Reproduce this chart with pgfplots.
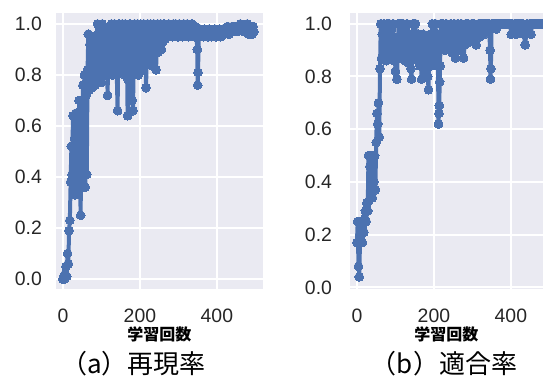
\documentclass[border=0pt]{standalone}
\usepackage{pgfplots}
\pgfplotsset{compat=1.18}
\usepackage{fontspec}
\setmainfont{Liberation Sans}
\newfontfamily\cjk{Noto Sans CJK JP}
\definecolor{sbblue}{HTML}{4C72B0}
\definecolor{sbbg}{HTML}{EAEAF2}
\definecolor{sbtext}{HTML}{262626}
\pgfplotsset{
  sbstyle/.style={
    scale only axis, anchor=south west,
    height=138.15pt,
    xmin=-18,
    axis background/.style={fill=sbbg},
    axis line style={draw=none},
    major tick length=0pt,
    grid=major, major grid style={white, line width=1pt},
    xtick={0,200,400}, xticklabels={0,200,400},
    ytick={0,0.2,0.4,0.6,0.8,1.0}, yticklabels={0.0,0.2,0.4,0.6,0.8,1.0},
    tick label style={font=\fontsize{9.7}{11}\selectfont, text=sbtext},
    xticklabel style={yshift=-6.3pt},
    xlabel={学習回数},
    xlabel style={font=\fontsize{8}{10}\selectfont\cjk\bfseries, text=black,
      at={(axis description cs:0.5,0)}, anchor=center, yshift=-22.5pt},
  },
  sbline/.style={color=sbblue, line width=2pt, line join=round, line cap=round,
    mark=*, mark size=2.2pt,
    mark options={solid, fill=sbblue, draw=sbblue, line width=0pt}},
}
\begin{document}
\begin{tikzpicture}
\path[use as bounding box] (0pt,0pt) rectangle (271.5pt,189pt);
\begin{axis}[sbstyle, at={(28pt,44.5pt)}, width=103.35pt, xmax=519,
  ymin=-0.039, ymax=1.044, yticklabel style={xshift=-3.5pt}]
\addplot[sbline] coordinates {
(0,0.00)(2,0.01)(4,0.00)(6,0.02)(8,0.05)(10,0.01)(12,0.10)(14,0.06)(16,0.19)(18,0.23)(20,0.38)(22,0.52)(24,0.41)(26,0.64)(28,0.36)(30,0.55)(32,0.33)(34,0.65)(36,0.40)(38,0.60)(40,0.34)(42,0.70)(44,0.45)(46,0.25)(48,0.62)(50,0.38)(52,0.76)(54,0.48)(56,0.80)(58,0.36)(60,0.72)(62,0.41)(64,0.82)(66,0.96)(68,0.74)(70,0.92)(72,0.78)(74,0.88)(76,0.75)(78,0.95)(80,0.80)(82,0.90)(84,0.76)(86,0.93)(88,0.82)(90,1.00)(92,0.78)(94,0.97)(96,0.80)(98,0.94)
(100,0.77)(102,1.00)(104,0.84)(106,0.97)(108,0.80)(110,0.93)(112,0.82)(114,0.98)(116,0.72)(118,0.90)(120,0.82)(122,0.99)(124,0.86)(126,1.00)(128,0.80)(130,0.95)(132,0.84)(134,1.00)(136,0.88)(138,0.98)(140,0.80)(142,0.66)(144,0.92)(146,1.00)(148,0.85)(150,0.97)(152,0.82)(154,1.00)(156,0.88)(158,0.95)(160,0.80)(162,1.00)(164,0.86)(166,0.96)(168,0.64)(170,0.78)(172,0.92)(174,1.00)(176,0.84)(178,0.98)(180,0.70)(182,0.66)(184,0.86)(186,1.00)(188,0.82)(190,0.97)(192,0.85)(194,1.00)(196,0.80)(198,0.96)(200,0.88)(202,1.00)(204,0.84)(206,0.98)(208,0.82)(210,1.00)(212,0.87)(214,0.96)(216,0.75)(218,0.90)(220,1.00)
(222,0.86)(224,0.98)(226,0.84)(228,1.00)(230,0.88)(232,0.97)(234,0.85)(236,1.00)(238,0.90)(240,0.98)(242,0.82)(244,0.92)(246,1.00)(248,0.89)(250,0.98)(252,0.91)(254,1.00)(256,0.90)(258,0.97)(260,0.93)
(263,1.00)(266,0.94)(269,0.99)(272,0.95)(275,1.00)(278,0.96)(281,0.99)(284,0.95)(287,1.00)(290,0.96)(293,1.00)(296,0.97)(299,0.95)(302,1.00)(305,0.96)(308,0.99)(311,0.95)(314,1.00)(317,0.97)(320,0.96)(323,1.00)(326,0.95)(329,0.99)(332,0.96)(335,1.00)(338,0.97)(341,0.95)(344,0.99)(347,0.96)(349,0.90)(350,0.76)(351,0.81)(353,0.96)
(356,0.98)(359,0.96)(362,0.97)(365,0.95)(368,0.98)(371,0.96)(374,0.97)(377,0.95)(380,0.98)(383,0.96)(386,0.95)(389,0.97)(392,0.96)(395,0.98)(398,0.95)(401,0.97)(404,0.96)(407,0.98)(410,0.95)(413,0.97)(416,0.98)(419,0.96)(422,0.98)(425,0.97)(428,0.99)(431,0.96)(434,0.98)(437,0.97)(440,0.99)(443,0.97)(446,0.98)(449,0.99)(452,0.97)(455,0.99)(458,0.98)(461,1.00)(464,0.98)(467,0.99)(470,0.97)(473,0.99)(476,0.98)(479,1.00)(482,0.96)(485,0.99)(488,0.98)(491,0.96)(494,0.99)(496,0.97)
};
\end{axis}
\begin{axis}[sbstyle, at={(175pt,44.5pt)}, width=96.5pt, xmax=483.4,
  ymin=-0.006, ymax=1.042, yticklabel style={xshift=-5.5pt}]
\addplot[sbline] coordinates {
(0,0.17)(2,0.25)(4,0.08)(6,0.04)(8,0.17)(10,0.25)(12,0.20)(14,0.17)(16,0.24)(18,0.21)(20,0.26)(22,0.29)(24,0.25)(26,0.32)(28,0.29)(30,0.50)(32,0.33)(34,0.46)(36,0.38)(38,0.50)(40,0.34)(42,0.48)(44,0.40)(46,0.50)(48,0.37)(50,0.55)(52,0.66)(54,0.62)(56,0.70)(58,0.57)(60,0.83)(62,1.00)(64,0.87)
(66,0.96)(68,0.88)(70,1.00)(72,0.90)(74,0.97)(76,0.86)(78,1.00)(80,0.92)(82,0.88)(84,1.00)(86,0.94)(88,0.87)(90,0.98)(92,0.90)(94,1.00)(96,0.86)(98,0.95)(100,0.82)(102,0.91)(104,0.79)(106,0.88)(108,1.00)(110,0.93)(112,0.87)(114,1.00)(116,0.95)(118,0.89)(120,1.00)(122,0.91)(124,0.86)(126,0.98)(128,0.93)(130,1.00)(132,0.88)(134,0.96)(136,0.85)(138,0.92)(140,0.83)(142,0.79)(144,0.90)(146,1.00)(148,0.94)(150,0.87)(152,1.00)(154,0.90)(156,0.96)(158,0.86)(160,0.96)(162,0.90)(164,0.84)(166,0.93)(168,0.79)(170,0.88)(172,0.96)(174,0.85)(176,0.92)(178,0.82)(180,0.95)(182,0.87)(184,0.80)(186,0.75)(188,0.90)(190,0.96)(192,0.84)(194,0.92)(196,1.00)(198,0.88)(200,0.96)(202,0.86)(204,1.00)(206,0.90)(208,0.84)(210,0.96)(212,0.62)(213,0.66)(214,0.69)(215,0.78)(216,0.84)(218,1.00)(220,0.93)
(223,1.00)(226,0.95)(229,0.90)(232,1.00)(235,0.94)(238,0.98)(241,0.91)(244,1.00)(247,0.89)(250,0.95)(253,1.00)(256,0.87)(259,0.93)(262,1.00)(265,0.96)(268,0.90)(271,1.00)(274,0.94)(277,0.87)(280,0.92)(283,1.00)(286,0.96)(289,1.00)(292,0.93)(295,0.98)(298,1.00)(301,0.95)(304,1.00)(307,0.96)(310,0.92)(313,0.98)(316,1.00)(319,0.95)(322,1.00)(325,0.97)(328,1.00)(331,0.96)(334,1.00)(337,0.98)(340,1.00)(343,1.00)(346,0.90)(347,0.79)(348,0.83)(350,1.00)
(353,1.00)(356,1.00)(359,1.00)(362,0.98)(365,1.00)(368,1.00)(371,1.00)(374,1.00)(377,1.00)(380,1.00)(383,1.00)(386,1.00)(389,1.00)(392,1.00)(395,1.00)(398,1.00)(401,0.96)(404,1.00)(407,0.97)(410,1.00)(413,0.96)(416,1.00)(419,1.00)(422,0.97)(425,1.00)(428,1.00)(431,1.00)(434,0.96)(437,0.92)(440,0.96)(443,1.00)(446,0.97)(449,1.00)(452,0.96)(455,1.00)(460,1.00)(465,1.00)(470,1.00)(475,1.00)(480,1.00)(485,1.00)(490,1.00)(496,1.00)
};
\end{axis}
\node[anchor=base, font=\fontsize{13}{15}\selectfont\cjk, text=black] at (66.8pt,2.1pt) {（a）再現率};
\node[anchor=base, font=\fontsize{13}{15}\selectfont\cjk, text=black] at (222pt,2.1pt) {（b）適合率};
\end{tikzpicture}
\end{document}
